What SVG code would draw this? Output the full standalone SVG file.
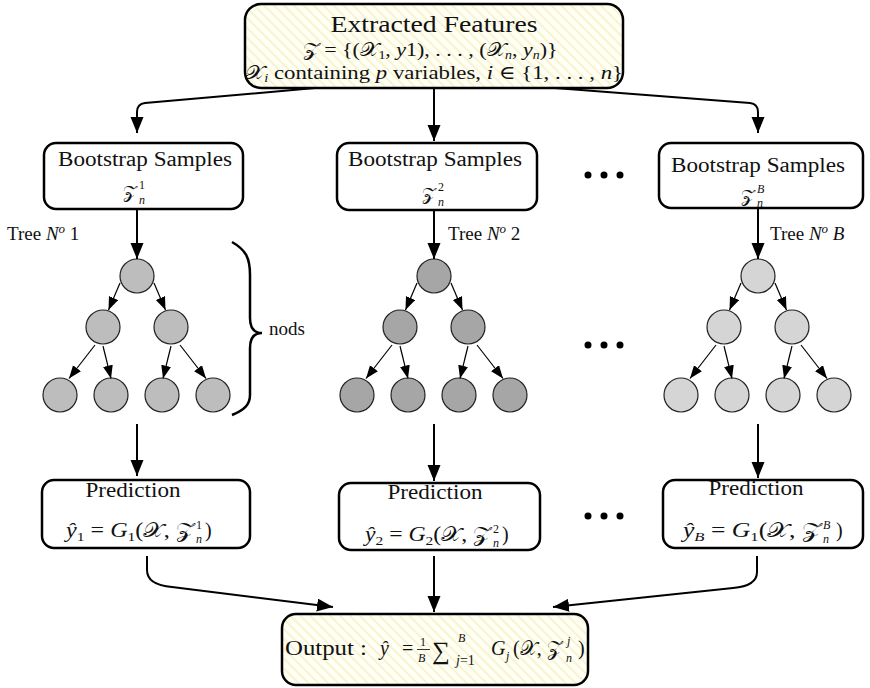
<svg xmlns="http://www.w3.org/2000/svg" width="870" height="688" viewBox="0 0 870 688">
<style>
.t{font-family:"Liberation Serif","DejaVu Serif","DejaVu Sans",serif;fill:#111}
.i{font-style:italic}
.box{fill:#fff;stroke:#000;stroke-width:2.5}
.hbox{fill:url(#hatch);stroke:#000;stroke-width:2.5}
.c{fill:none;stroke:#000;stroke-width:2}
.e{fill:none;stroke:#000;stroke-width:1.2}
.n1{fill:#bdbdbd;stroke:#222;stroke-width:1.2}
.n2{fill:#a6a6a6;stroke:#222;stroke-width:1.2}
.n3{fill:#d5d5d5;stroke:#222;stroke-width:1.2}
</style>
<defs>
<pattern id="hatch" width="7" height="7" patternUnits="userSpaceOnUse" patternTransform="rotate(-45)">
<rect width="7" height="7" fill="#fffff6"/>
<line x1="1" y1="0" x2="1" y2="7" stroke="#f3eebb" stroke-width="1.3"/>
</pattern>
<marker id="ab" markerUnits="userSpaceOnUse" markerWidth="17" markerHeight="14" refX="16" refY="6.5" orient="auto">
<path d="M0,0 L16,6.5 L0,13 z" fill="#000"/>
</marker>
<marker id="as" markerUnits="userSpaceOnUse" markerWidth="14" markerHeight="11" refX="13" refY="5" orient="auto">
<path d="M0,0 L13,5 L0,10 z" fill="#000"/>
</marker>
</defs>

<g id="features">
<rect class="hbox" x="245" y="4" width="378" height="84" rx="16"/>
<text class="t" x="434" y="32" font-size="24" text-anchor="middle" textLength="207" lengthAdjust="spacingAndGlyphs">Extracted Features</text>
<text class="t" x="430" y="56" font-size="19" text-anchor="middle" textLength="255" lengthAdjust="spacingAndGlyphs">𝒵 = {(𝒳<tspan font-size="12" dy="3">1</tspan><tspan dy="-3">, </tspan><tspan class="i">y</tspan>1), . . . , (𝒳<tspan font-size="12" class="i" dy="3">n</tspan><tspan dy="-3">, </tspan><tspan class="i">y</tspan><tspan font-size="12" class="i" dy="3">n</tspan><tspan dy="-3">)}</tspan></text>
<text class="t" x="434" y="79" font-size="19" text-anchor="middle" textLength="378" lengthAdjust="spacingAndGlyphs">𝒳<tspan font-size="12" class="i" dy="3">i</tspan><tspan dy="-3"> containing </tspan><tspan class="i">p</tspan> variables, <tspan class="i">i</tspan> ∈ {1, . . . , <tspan class="i">n</tspan>}</text>
</g>

<g id="boot1">
<rect class="box" x="44" y="143" width="199" height="66" rx="12"/>
<text class="t" x="145" y="166" font-size="20" text-anchor="middle" textLength="174" lengthAdjust="spacingAndGlyphs">Bootstrap Samples</text>
<text class="t" x="123" y="198" font-size="18">𝒵</text>
<text class="t" x="139" y="189" font-size="12">1</text>
<text class="t i" x="139" y="204" font-size="12">n</text>
</g>
<g id="boot2">
<rect class="box" x="337" y="143" width="200" height="67" rx="12"/>
<text class="t" x="435" y="166" font-size="20" text-anchor="middle" textLength="174" lengthAdjust="spacingAndGlyphs">Bootstrap Samples</text>
<text class="t" x="422" y="200" font-size="18">𝒵</text>
<text class="t" x="438" y="191" font-size="12">2</text>
<text class="t i" x="438" y="206" font-size="12">n</text>
</g>
<g id="bootB">
<rect class="box" x="659" y="143" width="204" height="65" rx="12"/>
<text class="t" x="758" y="172" font-size="20" text-anchor="middle" textLength="174" lengthAdjust="spacingAndGlyphs">Bootstrap Samples</text>
<text class="t" x="741" y="202" font-size="18">𝒵</text>
<text class="t i" x="757" y="193" font-size="12">B</text>
<text class="t i" x="757" y="207" font-size="12">n</text>
</g>

<g id="labels">
<text class="t" x="7" y="240" font-size="19">Tree <tspan class="i">N</tspan><tspan class="i" font-size="13" dy="-7">o</tspan><tspan dy="7"> 1</tspan></text>
<text class="t" x="448" y="240" font-size="19">Tree <tspan class="i">N</tspan><tspan class="i" font-size="13" dy="-7">o</tspan><tspan dy="7"> 2</tspan></text>
<text class="t" x="770" y="240" font-size="19">Tree <tspan class="i">N</tspan><tspan class="i" font-size="13" dy="-7">o</tspan><tspan dy="7"> </tspan><tspan class="i">B</tspan></text>
<text class="t" x="269" y="335" font-size="19">nods</text>
<path d="M232,242 C246,250 250,258 250,275 L250,318 C250,328 254,333 262,333 C254,333 250,338 250,348 L250,395 C250,405 244,410 232,415" fill="none" stroke="#000" stroke-width="2.5"/>
</g>

<g id="dots">
<circle cx="588" cy="175" r="3.5"/><circle cx="604" cy="175" r="3.5"/><circle cx="620" cy="175" r="3.5"/>
<circle cx="588" cy="345" r="3.5"/><circle cx="604" cy="345" r="3.5"/><circle cx="620" cy="345" r="3.5"/>
<circle cx="588" cy="516" r="3.5"/><circle cx="604" cy="516" r="3.5"/><circle cx="620" cy="516" r="3.5"/>
</g>

<g id="tree1">
<circle class="n1" cx="137" cy="276" r="17"/>
<circle class="n1" cx="103" cy="327" r="17"/>
<circle class="n1" cx="171" cy="327" r="17"/>
<circle class="n1" cx="60" cy="395" r="17"/>
<circle class="n1" cx="111" cy="395" r="17"/>
<circle class="n1" cx="162" cy="395" r="17"/>
<circle class="n1" cx="213" cy="395" r="17"/>
</g>
<g id="tree2">
<circle class="n2" cx="434" cy="276" r="17"/>
<circle class="n2" cx="400" cy="327" r="17"/>
<circle class="n2" cx="468" cy="327" r="17"/>
<circle class="n2" cx="357" cy="395" r="17"/>
<circle class="n2" cx="408" cy="395" r="17"/>
<circle class="n2" cx="459" cy="395" r="17"/>
<circle class="n2" cx="510" cy="395" r="17"/>
</g>
<g id="treeB">
<circle class="n3" cx="758" cy="276" r="17"/>
<circle class="n3" cx="724" cy="327" r="17"/>
<circle class="n3" cx="792" cy="327" r="17"/>
<circle class="n3" cx="681" cy="395" r="17"/>
<circle class="n3" cx="732" cy="395" r="17"/>
<circle class="n3" cx="783" cy="395" r="17"/>
<circle class="n3" cx="834" cy="395" r="17"/>
</g>

<g id="pred1">
<rect class="box" x="42" y="480" width="208" height="68" rx="12"/>
<text class="t" x="133" y="497" font-size="20" text-anchor="middle" textLength="95" lengthAdjust="spacingAndGlyphs">Prediction</text>
<text class="t" x="66" y="537" font-size="20" textLength="128" lengthAdjust="spacingAndGlyphs"><tspan class="i">ŷ</tspan><tspan font-size="13" dy="4">1</tspan><tspan dy="-4"> = </tspan><tspan class="i">G</tspan><tspan font-size="13" dy="4">1</tspan><tspan dy="-4">(𝒳, 𝒵</tspan></text>
<text class="t" x="196" y="529" font-size="12">1</text>
<text class="t i" x="196" y="543" font-size="12">n</text>
<text class="t" x="205" y="537" font-size="20">)</text>
</g>
<g id="pred2">
<rect class="box" x="339" y="483" width="201" height="67" rx="12"/>
<text class="t" x="435" y="499" font-size="20" text-anchor="middle" textLength="95" lengthAdjust="spacingAndGlyphs">Prediction</text>
<text class="t" x="365" y="541" font-size="20" textLength="126" lengthAdjust="spacingAndGlyphs"><tspan class="i">ŷ</tspan><tspan font-size="13" dy="4">2</tspan><tspan dy="-4"> = </tspan><tspan class="i">G</tspan><tspan font-size="13" dy="4">2</tspan><tspan dy="-4">(𝒳, 𝒵</tspan></text>
<text class="t" x="493" y="533" font-size="12">2</text>
<text class="t i" x="493" y="547" font-size="12">n</text>
<text class="t" x="502" y="541" font-size="20">)</text>
</g>
<g id="predB">
<rect class="box" x="663" y="480" width="200" height="68" rx="12"/>
<text class="t" x="756" y="495" font-size="20" text-anchor="middle" textLength="95" lengthAdjust="spacingAndGlyphs">Prediction</text>
<text class="t" x="683" y="537" font-size="20" textLength="138" lengthAdjust="spacingAndGlyphs"><tspan class="i">ŷ</tspan><tspan font-size="13" class="i" dy="4">B</tspan><tspan dy="-4"> = </tspan><tspan class="i">G</tspan><tspan font-size="13" dy="4">1</tspan><tspan dy="-4">(𝒳, 𝒵</tspan></text>
<text class="t i" x="823" y="529" font-size="12">B</text>
<text class="t i" x="823" y="543" font-size="12">n</text>
<text class="t" x="836" y="537" font-size="20">)</text>
</g>

<g id="output">
<rect class="hbox" x="282" y="614" width="306" height="71" rx="14"/>
<text class="t" x="285" y="655" font-size="20" textLength="82" lengthAdjust="spacingAndGlyphs">Output :</text>
<text class="t i" x="380" y="655" font-size="20">ŷ</text>
<text class="t" x="402" y="655" font-size="20">=</text>
<text class="t" x="420" y="646" font-size="12">1</text>
<line x1="417" y1="649.5" x2="430" y2="649.5" stroke="#000" stroke-width="0.8"/>
<text class="t i" x="418" y="662" font-size="12">B</text>
<text class="t" x="432" y="659" font-size="25">∑</text>
<text class="t i" x="458" y="642" font-size="12">B</text>
<text class="t" x="456" y="665" font-size="14"><tspan class="i">j</tspan>=1</text>
<text class="t i" x="491" y="655" font-size="20">G</text>
<text class="t i" x="506" y="660" font-size="12">j</text>
<text class="t" x="513" y="655" font-size="20">(𝒳, 𝒵</text>
<text class="t i" x="567" y="645" font-size="12">j</text>
<text class="t i" x="566" y="662" font-size="12">n</text>
<text class="t" x="578" y="655" font-size="20">)</text>
</g>

<g id="connectors">
<path class="c" d="M315,88 L145,103 Q137,104 137,112 L137,133" marker-end="url(#ab)"/>
<path class="c" d="M434,88 L434,141" marker-end="url(#ab)"/>
<path class="c" d="M555,88 L750,103 Q758,104 758,112 L758,133" marker-end="url(#ab)"/>
<path class="c" d="M137,209 L137,259" marker-end="url(#ab)"/>
<path class="c" d="M434,210 L434,259" marker-end="url(#ab)"/>
<path class="c" d="M758,208 L758,259" marker-end="url(#ab)"/>
<path class="e" d="M120,283 L108.5,310" marker-end="url(#as)"/>
<path class="e" d="M154,283 L165.5,310" marker-end="url(#as)"/>
<path class="e" d="M95,345 L69,378.5" marker-end="url(#as)"/>
<path class="e" d="M103,346 L111,378.5" marker-end="url(#as)"/>
<path class="e" d="M171,346 L163,378.5" marker-end="url(#as)"/>
<path class="e" d="M180,345 L206,378.5" marker-end="url(#as)"/>
<path class="e" d="M417,283 L405.5,310" marker-end="url(#as)"/>
<path class="e" d="M451,283 L462.5,310" marker-end="url(#as)"/>
<path class="e" d="M392,345 L366,378.5" marker-end="url(#as)"/>
<path class="e" d="M400,346 L408,378.5" marker-end="url(#as)"/>
<path class="e" d="M468,346 L460,378.5" marker-end="url(#as)"/>
<path class="e" d="M477,345 L503,378.5" marker-end="url(#as)"/>
<path class="e" d="M741,283 L729.5,310" marker-end="url(#as)"/>
<path class="e" d="M775,283 L786.5,310" marker-end="url(#as)"/>
<path class="e" d="M716,345 L690,378.5" marker-end="url(#as)"/>
<path class="e" d="M724,346 L732,378.5" marker-end="url(#as)"/>
<path class="e" d="M792,346 L784,378.5" marker-end="url(#as)"/>
<path class="e" d="M801,345 L827,378.5" marker-end="url(#as)"/>
<path class="c" d="M137,424 L137,476" marker-end="url(#ab)"/>
<path class="c" d="M434,424 L434,481" marker-end="url(#ab)"/>
<path class="c" d="M758,424 L758,478" marker-end="url(#ab)"/>
<path class="c" d="M147,556 L147,570 Q147,585 172,587 L333,607" marker-end="url(#ab)"/>
<path class="c" d="M434,556 L434,612" marker-end="url(#ab)"/>
<path class="c" d="M757,556 L757,572 Q757,586 733,588 L553,607" marker-end="url(#ab)"/>
</g>
</svg>
